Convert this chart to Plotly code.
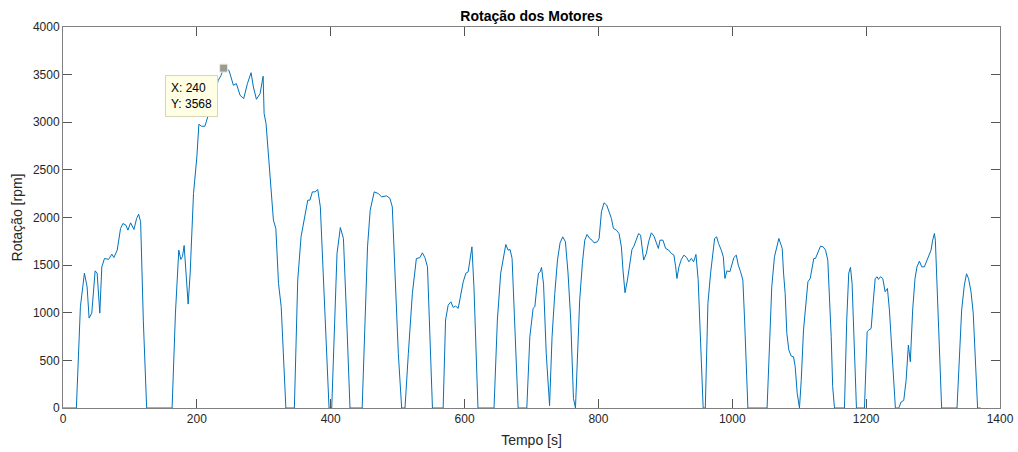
import plotly.graph_objects as go

# Time [s]
tempo = [
    0, 20, 26, 32, 36, 39, 43, 48, 51, 55, 58, 62, 68, 73, 76, 81, 86, 89.5, 94, 97,
    101, 106, 110, 113, 116, 120, 125, 163, 168, 173, 176, 178.5, 181, 184, 187, 190,
    195, 200, 203, 207, 212, 217, 225, 232, 236, 240, 248, 254.6, 259, 264.6, 270,
    275.5, 281, 284.5, 289, 294.5, 299, 300.5, 303.4, 307, 311, 314.4, 318, 322, 326,
    329.4, 333, 345.7, 350.7, 355.7, 360.6, 365.7, 369, 372.6, 376.6, 380.6, 384.5,
    389, 393.4, 397.5, 401.5, 405.4, 409.4, 414.4, 419, 423.9, 428.8, 447, 451, 455,
    459, 465, 471, 476, 483.6, 488.5, 492, 496, 501, 506, 511, 516, 522, 528, 533,
    537, 540.7, 544.6, 548, 552, 568, 571.6, 575.5, 579.5, 583, 586.6, 590.5, 594.5,
    598, 602, 605.4, 608, 611, 614, 617, 620, 644, 649, 654, 658, 661.6, 665, 668,
    671, 675, 680, 693, 697.5, 702.4, 705, 708, 710.5, 713, 715, 718, 722, 727,
    730.7, 734.8, 738.8, 742.7, 746.7, 750.7, 754.6, 758.6, 762.7, 765.7, 768.6, 772,
    776, 779.6, 783, 787, 790.4, 793.4, 798.5, 801, 804.5, 808.4, 812.4, 815.4,
    819.4, 822.4, 826.9, 830.8, 834.3, 836.7, 839.7, 843.3, 846.7, 850.1, 853,
    856.7, 860, 863, 867.6, 871.6, 875, 879, 883, 886.6, 889.5, 892, 896.4, 900.4,
    905, 909, 912.8, 915.4, 917.3, 920.3, 923.9, 927.8, 931.8, 935.2, 938.8, 942.2,
    945.7, 949, 952.5, 956.5, 959.7, 963.6, 967.6, 971, 973.6, 976.6, 979.5, 983.6,
    986.6, 989, 992, 996.4, 999.4, 1002.4, 1006, 1009, 1012.4, 1015.8, 1018.4, 1021,
    1023.3, 1052, 1055.7, 1059, 1063, 1066.6, 1069.6, 1072.5, 1074.6, 1076.6, 1079,
    1081.5, 1084.5, 1088, 1091.5, 1094, 1097, 1100.4, 1103, 1106.4, 1109.4, 1113,
    1116.4, 1119, 1121.8, 1124.3, 1127.8, 1131.8, 1135.8, 1139.3, 1142.7, 1145,
    1147.8, 1150, 1152.7, 1167.6, 1171, 1174, 1176.6, 1179, 1182.5, 1185.5, 1197.5,
    1201.5, 1204, 1207.5, 1210, 1213.5, 1216.4, 1218.4, 1221.4, 1224.8, 1228.4,
    1231.8, 1234.8, 1238.3, 1241.3, 1243.7, 1248.7, 1252.3, 1256.2, 1259.7, 1263.1,
    1266, 1269.5, 1273, 1276, 1279.6, 1283, 1287, 1291, 1294.5, 1297, 1299.4, 1302,
    1303.4, 1306, 1309.4, 1312.8, 1335.8, 1339.3, 1342.7, 1346.7, 1350, 1353,
    1356.7, 1360, 1363, 1366.5, 1371,
]

# Engine speed [rpm]
rotacao = [
    0, 0, 1063, 1416, 1273, 944, 996, 1440, 1416, 996, 1482, 1570, 1560, 1615, 1580,
    1657, 1885, 1937, 1920, 1867, 1944, 1874, 1990, 2035, 1955, 923, 0, 0, 996, 1657,
    1560, 1590, 1706, 1343, 1091, 1416, 2252, 2636, 2979, 2958, 2958, 3073, 3260,
    3440, 3490, 3568, 3545, 3388, 3405, 3283, 3248, 3405, 3520, 3370, 3241, 3301,
    3483, 3091, 2986, 2672, 2322, 1972, 1885, 1308, 1063, 574, 0, 0, 1343, 1797,
    2007, 2182, 2182, 2269, 2269, 2294, 2112, 1343, 574, 0, 0, 923, 1622, 1895, 1780,
    923, 0, 0, 923, 1692, 2077, 2269, 2252, 2217, 2227, 2200, 2112, 1448, 574, 0, 0,
    574, 1203, 1570, 1577, 1629, 1580, 1482, 748, 0, 0, 923, 1080, 1115, 1056, 1070,
    1046, 1203, 1325, 1416, 1430, 1553, 1692, 1273, 574, 0, 0, 923, 1416, 1590, 1717,
    1657, 1664, 1570, 923, 0, 0, 748, 1046, 1063, 1273, 1416, 1430, 1476, 1300, 574,
    25, 748, 1203, 1553, 1734, 1797, 1745, 1416, 923, 100, 0, 574, 1133, 1518, 1762,
    1822, 1780, 1762, 1734, 1745, 1780, 2060, 2154, 2130, 2060, 1990, 1885, 1867,
    1832, 1692, 1448, 1210, 1343, 1482, 1664, 1699, 1780, 1832, 1815, 1553, 1622,
    1745, 1839, 1804, 1734, 1675, 1762, 1762, 1675, 1657, 1622, 1605, 1482, 1360,
    1482, 1560, 1605, 1580, 1535, 1570, 1535, 1612, 1350, 700, 0, 0, 1098, 1416, 1622,
    1780, 1797, 1727, 1657, 1587, 1360, 1440, 1430, 1500, 1580, 1605, 1500, 1430,
    1343, 923, 399, 0, 0, 748, 1273, 1587, 1710, 1780, 1720, 1675, 1416, 1203, 783,
    608, 545, 538, 434, 155, 0, 290, 818, 1063, 1325, 1360, 1465, 1570, 1570, 1640,
    1699, 1692, 1657, 1553, 1203, 748, 224, 0, 0, 923, 1416, 1476, 1308, 700, 0, 0,
    801, 818, 836, 1063, 1360, 1378, 1350, 1378, 1360, 1220, 1255, 1028, 574, 189, 0,
    0, 63, 80, 290, 661, 486, 1028, 1360, 1482, 1542, 1482, 1482, 1553, 1622, 1657,
    1762, 1832, 1762, 1273, 574, 0, 0, 574, 1028, 1290, 1409, 1360, 1220, 996, 504,
    0, 0,
]

x_ticks = [0, 200, 400, 600, 800, 1000, 1200, 1400]
y_ticks = [0, 500, 1000, 1500, 2000, 2500, 3000, 3500, 4000]

tip_x = [240]
tip_y = [3568]

FONT = "Liberation Sans, Arial, Helvetica, sans-serif"

fig = go.Figure()
fig.add_trace(go.Scatter(
    x=tempo, y=rotacao, mode="lines",
    line=dict(color="#0072BD", width=1),
    cliponaxis=False, showlegend=False, hoverinfo="skip",
))
fig.add_trace(go.Scatter(
    x=tip_x, y=tip_y, mode="markers",
    marker=dict(symbol="square", size=8, color="#9a9a9a",
                line=dict(color="#f2f0c8", width=1)),
    cliponaxis=False, showlegend=False, hoverinfo="skip",
))

fig.add_annotation(
    x=tip_x[0], y=tip_y[0], xref="x", yref="y",
    text=f"X: {tip_x[0]}<br>Y: {tip_y[0]}",
    showarrow=False, xanchor="right", yanchor="top", align="left",
    xshift=-6, yshift=-7,
    bgcolor="#FFFFE6", bordercolor="#D8D6B8", borderwidth=1, borderpad=5,
    font=dict(family=FONT, size=12, color="#000000"),
)

axis_common = dict(
    showline=True, linecolor="#808080", linewidth=1, mirror="ticks",
    ticks="inside", ticklen=9, tickwidth=1, tickcolor="#555555",
    showgrid=False, zeroline=False, automargin=False,
    tickfont=dict(family=FONT, size=12, color="#262626"),
    layer="below traces",
)

fig.update_layout(
    width=1018, height=452,
    margin=dict(l=63, r=18, t=27, b=44),
    paper_bgcolor="white", plot_bgcolor="white",
    title=dict(text="<b>Rotação dos Motores</b>", x=0.5, xref="paper",
               y=1 - 16.5 / 452, yref="container", yanchor="middle",
               font=dict(family=FONT, size=14, color="#000000")),
    xaxis=dict(range=[0, 1400], tickvals=x_ticks,
               title=dict(text="Tempo [s]", standoff=9,
                          font=dict(family=FONT, size=14, color="#262626")),
               **axis_common),
    yaxis=dict(range=[0, 4000], tickvals=y_ticks,
               title=dict(text="Rotação [rpm]", standoff=6,
                          font=dict(family=FONT, size=14, color="#262626")),
               **axis_common),
)

fig.write_html("out.html")
